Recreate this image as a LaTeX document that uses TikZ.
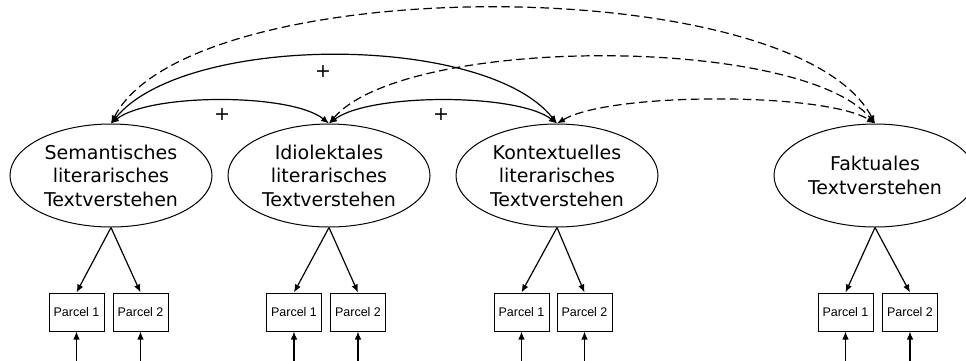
\documentclass[tikz,border=0pt]{standalone}
\usepackage{fontspec}
\setmainfont{DejaVu Sans}
\newfontfamily\boxfont{Liberation Sans}
\usetikzlibrary{arrows.meta,shapes.geometric}

\tikzset{
  latent/.style={draw, line width=1pt, ellipse, minimum width=202pt, minimum height=103pt,
    inner sep=0pt, align=center, font=\fontsize{19}{23.5}\selectfont},
  parcel/.style={draw, line width=1pt, minimum width=55pt, minimum height=38pt,
    inner sep=0pt, font=\boxfont\fontsize{12.5}{14}\selectfont},
  tip/.style={Latex[length=8pt,width=6.5pt]},
  arr/.style={line width=1.2pt, -{Latex[length=8pt,width=6.5pt]}},
  cov/.style={line width=1.2pt, {Latex[length=8pt,width=6.5pt]}-{Latex[length=8pt,width=6.5pt]}},
  covd/.style={cov, dash pattern=on 8.5pt off 4.5pt},
  sign/.style={font=\fontsize{19}{19}\selectfont, inner sep=0pt}
}

\begin{document}
\begin{tikzpicture}[x=1pt, y=-1pt]
\useasboundingbox (0,0) rectangle (966,360);

% latent factors
\node[latent] (sem) at (111,175.5) {Semantisches\\literarisches\\Textverstehen};
\node[latent] (idi) at (329,175.5) {Idiolektales\\literarisches\\Textverstehen};
\node[latent] (kon) at (557,175.5) {Kontextuelles\\literarisches\\Textverstehen};
\node[latent] (fak) at (875,175.5) {Faktuales\\Textverstehen};

% indicator parcels
\node[parcel] (s1) at (76.5,312) {Parcel 1};
\node[parcel] (s2) at (140.5,312) {Parcel 2};
\node[parcel] (i1) at (294,312) {Parcel 1};
\node[parcel] (i2) at (358,312) {Parcel 2};
\node[parcel] (k1) at (521.5,312) {Parcel 1};
\node[parcel] (k2) at (584.5,312) {Parcel 2};
\node[parcel] (f1) at (845.5,312) {Parcel 1};
\node[parcel] (f2) at (910,312) {Parcel 2};

% loadings
\foreach \f/\a/\b in {sem/s1/s2, idi/i1/i2, kon/k1/k2, fak/f1/f2}{
  \draw[arr] (\f.south) -- (\a.north);
  \draw[arr] (\f.south) -- (\b.north);
}

% residual terms entering from below
\foreach \p in {s1,s2,i1,i2,k1,k2,f1,f2}{
  \coordinate (\p e) at ([yshift=-40pt]\p.south);
  \draw[arr] (\p e) -- (\p.south);
}

% correlations among the literary factors
\draw[cov] (sem.north) .. controls (150,93) and (291,93) .. (idi.north);
\draw[cov] (idi.north) .. controls (370,93) and (517,93) .. (kon.north);
\draw[cov] (sem.north) .. controls (185,33) and (485,33) .. (kon.north);

% correlations with factual comprehension
\draw[covd] (sem.north) .. controls (190,-30) and (795,-30) .. (fak.north);
\draw[covd] (idi.north) .. controls (405,35) and (800,35) .. (fak.north);
\draw[covd] (kon.north) .. controls (610,92) and (825,92) .. (fak.north);

% signs
\node[sign] (p1) at (222,115) {+};
\node[sign] (p2) at (441,115) {+};
\node[sign] (p3) at (323,72) {+};
\end{tikzpicture}
\end{document}
